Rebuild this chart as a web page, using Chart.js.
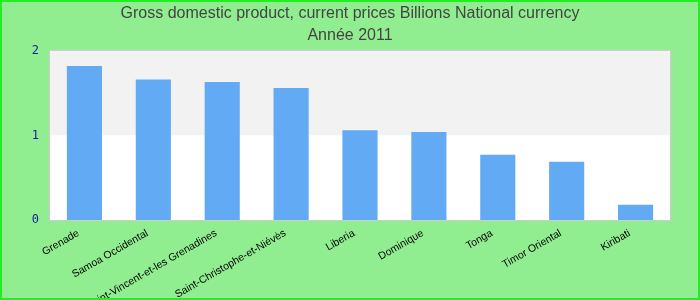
<!DOCTYPE html>
<html>
<head>
<meta charset="utf-8">
<script src="https://cdn.jsdelivr.net/npm/chart.js@4"></script>
<style>
  html, body { margin: 0; padding: 0; background: #90ee90; }
  #wrap { width: 700px; height: 300px; }
</style>
</head>
<body>
<div id="wrap"><canvas id="chart" width="700" height="300"></canvas></div>
<script>
const TITLE_LINES = ['Gross domestic product, current prices Billions National currency', 'Année 2011'];
const COUNTRIES = ['Grenade', 'Samoa Occidental', 'Saint-Vincent-et-les Grenadines', 'Saint-Christophe-et-Niévès',
  'Liberia', 'Dominique', 'Tonga', 'Timor Oriental', 'Kiribati'];
const GDP_VALUES = [1.82, 1.66, 1.63, 1.56, 1.06, 1.04, 0.77, 0.69, 0.18];
const Y_TICKS = [0, 1, 2];

// grey band between 1 and 2, plot frame and outer green border
const decor = {
  id: 'decor',
  beforeDraw(chart) {
    const { ctx, chartArea: a, scales: { y } } = chart;
    ctx.save();
    ctx.fillStyle = '#90ee90';
    ctx.fillRect(0, 0, chart.width, chart.height);
    ctx.fillStyle = '#ffffff';
    ctx.fillRect(a.left, a.top, a.right - a.left, a.bottom - a.top);
    const y1 = y.getPixelForValue(Y_TICKS[1]), y2 = y.getPixelForValue(Y_TICKS[2]);
    ctx.fillStyle = '#f2f2f2';
    ctx.fillRect(a.left, y2, a.right - a.left, y1 - y2);
    ctx.restore();
  },
  afterDraw(chart) {
    const { ctx, chartArea: a } = chart;
    ctx.save();
    ctx.strokeStyle = '#cccccc';
    ctx.lineWidth = 1;
    ctx.strokeRect(a.left - 0.5, a.top - 0.5, a.right - a.left + 1, a.bottom - a.top + 1);
    ctx.strokeStyle = '#22ee22';
    ctx.lineWidth = 2;
    ctx.strokeRect(1, 1, chart.width - 2, chart.height - 2);
    ctx.restore();
  }
};

new Chart(document.getElementById('chart'), {
  type: 'bar',
  data: {
    labels: COUNTRIES,
    datasets: [{
      data: GDP_VALUES,
      backgroundColor: '#63aaf5',
      borderWidth: 0,
      categoryPercentage: 1,
      barPercentage: 0.51
    }]
  },
  options: {
    responsive: false,
    animation: false,
    layout: { padding: 0 },
    plugins: {
      legend: { display: false },
      tooltip: { enabled: false },
      title: {
        display: true,
        text: TITLE_LINES,
        color: '#444444',
        font: { family: 'Liberation Sans, Arial, sans-serif', size: 16, weight: 'normal', lineHeight: 1.4 },
        padding: { top: 2, bottom: 4 }
      }
    },
    scales: {
      x: {
        grid: { display: false, drawTicks: false },
        border: { display: false },
        afterFit(scale) { scale.height = 80; },
        ticks: {
          autoSkip: false,
          minRotation: 30,
          maxRotation: 30,
          padding: 7,
          labelOffset: -6,
          color: '#000000',
          font: { family: 'Liberation Sans, Arial, sans-serif', size: 10.5 }
        }
      },
      y: {
        min: 0,
        max: 2,
        grid: { display: false, drawTicks: false },
        border: { display: false },
        afterFit(scale) { scale.width = 50; },
        afterBuildTicks(scale) { scale.ticks = Y_TICKS.map(v => ({ value: v })); },
        ticks: {
          padding: 11,
          color: '#1a1aa0',
          font: { family: 'DejaVu Sans Mono, monospace', size: 12 }
        }
      },
      // empty right gutter so the title centres on the full width
      yr: {
        type: 'linear',
        position: 'right',
        display: true,
        grid: { display: false, drawTicks: false },
        border: { display: false },
        ticks: { display: false },
        afterFit(scale) { scale.width = 30; }
      }
    }
  },
  plugins: [decor]
});
</script>
</body>
</html>
